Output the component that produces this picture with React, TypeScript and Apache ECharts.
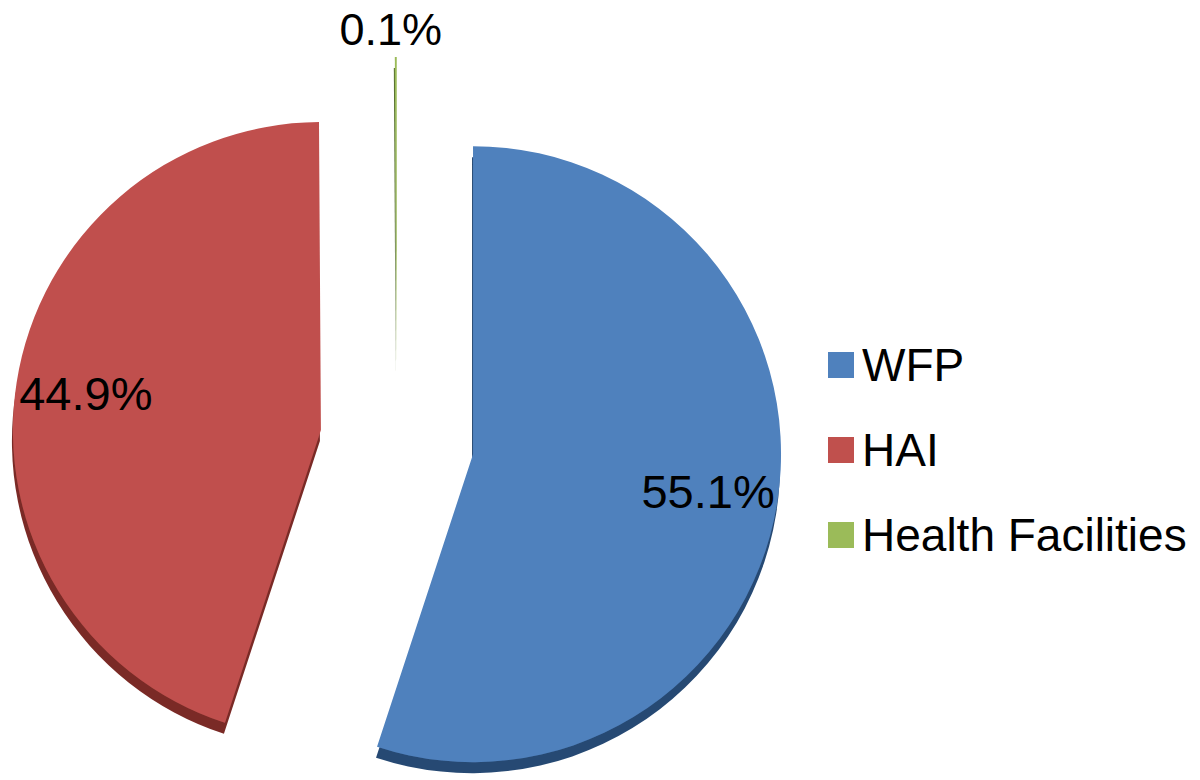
import React, { useEffect, useRef } from "react";
import * as echarts from "echarts";

const categories = ["WFP", "HAI", "Health Facilities"];
const values = [55.1, 44.9, 0.1];
const colors = ["#4F81BD", "#C0504D", "#9BBB59"];
const sideColors = ["#274a73", "#7a2a28", "#5a7330"];

const FONT = "'Liberation Sans', Arial, Helvetica, sans-serif";

export default function App() {
  const ref = useRef<HTMLDivElement>(null);
  useEffect(() => {
    if (!ref.current) return;
    const chart = echarts.init(ref.current, undefined, { renderer: "svg" });
    const center = [397, 442];
    const R = 308;
    const offset = 77;
    const mainData = categories.map((name, i) => ({
      name,
      value: values[i],
      selected: true,
      itemStyle: {
        color: colors[i],
        shadowColor: sideColors[i],
        shadowOffsetY: 11,
        shadowOffsetX: -1,
        shadowBlur: 1,
      },
      label: i === 2 ? { show: true, position: "outside" } : { show: false },
      labelLine: { show: false, length: 28, length2: 0 },
    }));
    const labelData = categories.map((name, i) => ({
      name,
      value: values[i],
      selected: true,
      itemStyle: { color: "rgba(0,0,0,0)" },
      label: { show: i !== 2 },
    }));
    chart.setOption({
      animation: false,
      legend: {
        orient: "vertical",
        left: 823,
        top: 337,
        itemWidth: 26,
        itemHeight: 26,
        itemGap: 39,
        icon: "rect",
        data: categories,
        textStyle: {
          fontSize: 46,
          fontFamily: FONT,
          color: "#000",
          padding: [0, 0, 0, 3],
        },
      },
      series: [
        {
          type: "pie",
          center,
          radius: [0, R],
          startAngle: 90,
          clockwise: true,
          selectedMode: "multiple",
          selectedOffset: offset,
          avoidLabelOverlap: false,
          emphasis: { disabled: true },
          label: {
            formatter: (p: any) => p.value.toFixed(1) + "%",
            fontSize: 45,
            fontFamily: FONT,
            color: "#000",
          },
          labelLayout: (p: any) => (p.dataIndex === 2 ? { align: "center" } : {}),
          data: mainData,
        },
        {
          type: "pie",
          center,
          radius: [0, 470],
          startAngle: 90,
          clockwise: true,
          selectedMode: "multiple",
          selectedOffset: offset,
          silent: true,
          emphasis: { disabled: true },
          avoidLabelOverlap: false,
          labelLine: { show: false },
          label: {
            position: "inside",
            formatter: (p: any) => p.value.toFixed(1) + "%",
            fontSize: 47,
            fontFamily: FONT,
            color: "#000",
          },
          data: labelData,
        },
      ],
    });
    return () => chart.dispose();
  }, []);
  return (
    <div
      ref={ref}
      style={{ position: "fixed", left: 0, top: 0, width: 1200, height: 780, background: "#fff" }}
    />
  );
}
